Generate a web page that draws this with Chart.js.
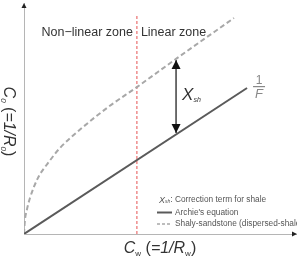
<!DOCTYPE html>
<html><head><meta charset="utf-8">
<script src="https://cdn.jsdelivr.net/npm/chart.js@4"></script>
<style>html,body{margin:0;padding:0;background:#fff;overflow:hidden}#w{width:297px;height:256px}</style>
</head><body><div id="w"><canvas id="c" width="297" height="256"></canvas></div>
<script>
// ---- data (axis units, arbitrary 0..10) ----
const archieX = [0, 8.2];
const archieY = [0, 6.32];
const shalyX = [0, 0.03, 0.1, 0.22, 0.51, 0.9, 1.32, 2.13, 3.1, 4.15, 5.59, 7.72];
const shalyY = [0, 0.55, 1.02, 1.56, 2.42, 3.1, 3.72, 4.59, 5.5, 6.36, 7.58, 9.35];
const zoneBoundaryX = 4.15;
const zoneBoundaryY = [0, 9.48];
const zoneLabelY = 8.74;
const zoneLabels = ['Non\u2212linear zone', 'Linear zone'];
const xshX = 5.59;
const xshY = [4.37, 7.53];
const xshLabelY = 6.06;
const legendLabels = ['Correction term for shale', "Archie's equation", 'Shaly-sandstone (dispersed-shale)'];

const FONT = '"Liberation Sans", Arial, Helvetica, sans-serif';
const pts = (xs, ys) => xs.map((x, i) => ({x, y: ys[i]}));

function drawRich(ctx, segs, x, y, align) {
  let w = 0;
  segs.forEach(s => { ctx.font = s.font; w += ctx.measureText(s.t).width; });
  let cx = align === 'center' ? x - w / 2 : (align === 'right' ? x - w : x);
  ctx.textAlign = 'left';
  segs.forEach(s => {
    ctx.font = s.font;
    ctx.fillStyle = s.color || '#333';
    ctx.fillText(s.t, cx, y + (s.dy || 0));
    cx += ctx.measureText(s.t).width;
  });
}

const deco = {
  id: 'deco',
  afterDatasetsDraw(chart) {
    const ctx = chart.ctx, xs = chart.scales.x, ys = chart.scales.y, ca = chart.chartArea;
    ctx.save();
    // axis arrowheads
    ctx.fillStyle = '#222';
    ctx.beginPath();
    ctx.moveTo(ca.left, ca.top); ctx.lineTo(ca.left - 2.5, ca.top + 5); ctx.lineTo(ca.left + 2.5, ca.top + 5); ctx.closePath(); ctx.fill();
    ctx.beginPath();
    ctx.moveTo(ca.right + 1, ca.bottom); ctx.lineTo(ca.right - 4, ca.bottom - 2.5); ctx.lineTo(ca.right - 4, ca.bottom + 2.5); ctx.closePath(); ctx.fill();

    // X_sh arrowheads
    const ax = xs.getPixelForValue(xshX);
    const at = ys.getPixelForValue(xshY[1]);
    const ab = ys.getPixelForValue(xshY[0]);
    ctx.fillStyle = '#111';
    ctx.beginPath(); ctx.moveTo(ax, at); ctx.lineTo(ax - 4.5, at + 9); ctx.lineTo(ax + 4.5, at + 9); ctx.closePath(); ctx.fill();
    ctx.beginPath(); ctx.moveTo(ax, ab); ctx.lineTo(ax - 4.5, ab - 9); ctx.lineTo(ax + 4.5, ab - 9); ctx.closePath(); ctx.fill();

    ctx.textBaseline = 'middle';
    // zone labels
    const bx = xs.getPixelForValue(zoneBoundaryX);
    const zy = ys.getPixelForValue(zoneLabelY);
    ctx.font = '12.5px ' + FONT; ctx.fillStyle = '#333';
    ctx.textAlign = 'right'; ctx.fillText(zoneLabels[0], bx - 4, zy);
    ctx.textAlign = 'left'; ctx.fillText(zoneLabels[1], bx + 4, zy);

    // X_sh label
    const ly = ys.getPixelForValue(xshLabelY);
    ctx.textBaseline = 'alphabetic';
    drawRich(ctx, [
      {t: 'X', font: 'italic 17px ' + FONT, color: '#333'},
      {t: 'sh', font: 'italic 7px ' + FONT, color: '#333', dy: 2}
    ], ax + 6, ly + 6, 'left');

    // 1/F label
    const ex = xs.getPixelForValue(archieX[1]);
    const ey = ys.getPixelForValue(archieY[1]);
    const fx = ex + 12, fy = ey - 2;
    ctx.fillStyle = '#888'; ctx.textAlign = 'center';
    ctx.font = '12px ' + FONT; ctx.fillText('1', fx, fy - 2);
    ctx.fillRect(fx - 6, fy, 12, 1.2);
    ctx.font = 'italic 13px ' + FONT; ctx.fillText('F', fx, fy + 12);

    // x axis title
    const midX = (ca.left + ca.right) / 2;
    drawRich(ctx, [
      {t: 'C', font: 'italic 16px ' + FONT},
      {t: 'w', font: '8px ' + FONT, dy: 3},
      {t: ' (', font: '16px ' + FONT},
      {t: '=1/', font: 'italic 16px ' + FONT},
      {t: 'R', font: 'italic 16px ' + FONT},
      {t: 'w', font: '8px ' + FONT, dy: 3},
      {t: ')', font: '16px ' + FONT}
    ], midX, ca.bottom + 19, 'center');

    // y axis title (rotated clockwise)
    ctx.save();
    ctx.translate(ca.left - 20, (ca.top + ca.bottom) / 2 + 3);
    ctx.rotate(Math.PI / 2);
    drawRich(ctx, [
      {t: 'C', font: 'italic 16px ' + FONT},
      {t: '0', font: 'italic 8px ' + FONT, dy: 3},
      {t: ' (', font: '16px ' + FONT},
      {t: '=1/', font: 'italic 16px ' + FONT},
      {t: 'R', font: 'italic 16px ' + FONT},
      {t: '0', font: 'italic 8px ' + FONT, dy: 3},
      {t: ')', font: '16px ' + FONT}
    ], 0, 0, 'center');
    ctx.restore();

    // legend
    const lx = ca.left + 133;
    const rows = [ca.bottom - 34, ca.bottom - 21.5, ca.bottom - 10];
    ctx.textBaseline = 'middle';
    drawRich(ctx, [
      {t: 'X', font: 'italic 9px ' + FONT, color: '#555'},
      {t: 'sh', font: 'italic 5px ' + FONT, color: '#555', dy: 2},
      {t: ': ' + legendLabels[0], font: '8.3px ' + FONT, color: '#555'}
    ], lx + 2, rows[0], 'left');
    const dsA = chart.data.datasets[0], dsS = chart.data.datasets[1];
    ctx.strokeStyle = dsA.borderColor; ctx.lineWidth = dsA.borderWidth; ctx.setLineDash([]);
    ctx.beginPath(); ctx.moveTo(lx, rows[1]); ctx.lineTo(lx + 15, rows[1]); ctx.stroke();
    ctx.strokeStyle = dsS.borderColor; ctx.lineWidth = 1.5; ctx.setLineDash([3, 2]);
    ctx.beginPath(); ctx.moveTo(lx, rows[2]); ctx.lineTo(lx + 15, rows[2]); ctx.stroke();
    ctx.setLineDash([]);
    ctx.font = '8.3px ' + FONT; ctx.fillStyle = '#555'; ctx.textAlign = 'left';
    ctx.fillText(legendLabels[1], lx + 18, rows[1]);
    ctx.fillText(legendLabels[2], lx + 18, rows[2]);
    ctx.restore();
  }
};

new Chart(document.getElementById('c'), {
  type: 'scatter',
  data: {
    datasets: [
      {label: legendLabels[1], data: pts(archieX, archieY), showLine: true, borderColor: '#5a5a5a', borderWidth: 2, pointRadius: 0},
      {label: legendLabels[2], data: pts(shalyX, shalyY), showLine: true, borderColor: '#a8a8a8', borderWidth: 2, borderDash: [5, 3], pointRadius: 0, cubicInterpolationMode: 'monotone'},
      {label: 'zone boundary', data: pts([zoneBoundaryX, zoneBoundaryX], zoneBoundaryY), showLine: true, borderColor: '#ec7b7b', borderWidth: 1.3, borderDash: [3, 2], pointRadius: 0},
      {label: legendLabels[0], data: pts([xshX, xshX], xshY), showLine: true, borderColor: '#222', borderWidth: 1.3, pointRadius: 0}
    ]
  },
  options: {
    responsive: false, animation: false, events: [],
    layout: {padding: {left: 24, right: 1, top: 3, bottom: 22}},
    plugins: {legend: {display: false}, tooltip: {enabled: false}},
    scales: {
      x: {type: 'linear', min: 0, max: 10, grid: {display: false, drawTicks: false}, ticks: {display: false}, border: {color: '#b5b5b5', width: 1}, afterFit: s => { s.height = 0; }},
      y: {type: 'linear', min: 0, max: 10, grid: {display: false, drawTicks: false}, ticks: {display: false}, border: {color: '#b5b5b5', width: 1}, afterFit: s => { s.width = 0; }}
    }
  },
  plugins: [deco]
});
</script></body></html>
